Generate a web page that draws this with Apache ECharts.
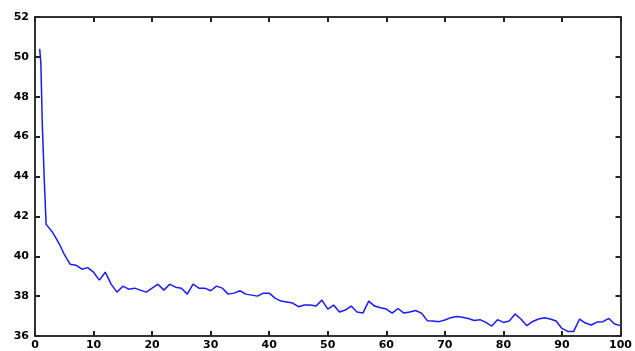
<!DOCTYPE html>
<html>
<head>
<meta charset="utf-8">
<script src="https://cdn.jsdelivr.net/npm/echarts@6/dist/echarts.min.js"></script>
<style>
  html, body { margin: 0; padding: 0; background: #fff; }
  #chart { width: 635px; height: 351px; }
</style>
</head>
<body>
<div id="chart"></div>
<script>
// x positions and values
var xValues = [0.8, 1.0, 1.25, 1.6, 1.9,
  3, 4, 5, 6, 7, 8, 9, 10, 11, 12, 13, 14, 15, 16, 17, 18, 19, 20,
  21, 22, 23, 24, 25, 26, 27, 28, 29, 30, 31, 32, 33, 34, 35, 36, 37, 38, 39, 40,
  41, 42, 43, 44, 45, 46, 47, 48, 49, 50, 51, 52, 53, 54, 55, 56, 57, 58, 59, 60,
  61, 62, 63, 64, 65, 66, 67, 68, 69, 70, 71, 72, 73, 74, 75, 76, 77, 78, 79, 80,
  81, 82, 83, 84, 85, 86, 87, 88, 89, 90, 91, 92, 93, 94, 95, 96, 97, 98, 99, 100];
var yValues = [50.4, 49.7, 46.6, 43.7, 41.6,
  41.2, 40.7, 40.1, 39.6, 39.55, 39.35, 39.43, 39.2, 38.8, 39.2, 38.6, 38.2, 38.5, 38.35, 38.4, 38.3, 38.2, 38.4,
  38.6, 38.3, 38.6, 38.45, 38.4, 38.1, 38.6, 38.4, 38.4, 38.27, 38.5, 38.4, 38.1, 38.15, 38.27, 38.1, 38.05, 38.0, 38.15, 38.15,
  37.9, 37.75, 37.7, 37.65, 37.47, 37.55, 37.55, 37.5, 37.8, 37.35, 37.55, 37.2, 37.3, 37.5, 37.2, 37.15, 37.75, 37.5, 37.42, 37.35,
  37.15, 37.38, 37.15, 37.2, 37.28, 37.15, 36.77, 36.75, 36.72, 36.8, 36.92, 36.98, 36.94, 36.88, 36.78, 36.82, 36.68, 36.5, 36.82, 36.68,
  36.75, 37.1, 36.85, 36.52, 36.73, 36.85, 36.92, 36.85, 36.75, 36.38, 36.23, 36.23, 36.85, 36.65, 36.55, 36.7, 36.72, 36.88, 36.6, 36.52];

var seriesData = xValues.map(function (x, i) { return [x, yValues[i]]; });

var axisLine = { show: true, onZero: false, lineStyle: { color: '#333', width: 2 } };
var tickStyle = { show: true, inside: true, length: 5, lineStyle: { color: '#222', width: 2 } };
var labelStyle = { color: '#000', fontFamily: 'DejaVu Sans', fontWeight: 'bold', fontSize: 11 };

var chart = echarts.init(document.getElementById('chart'));
chart.setOption({
  animation: false,
  grid: { left: 35, right: 13, top: 17, bottom: 14 },
  xAxis: [
    { type: 'value', min: 0, max: 100, interval: 10, position: 'bottom',
      axisLine: axisLine, axisTick: tickStyle, splitLine: { show: false },
      axisLabel: Object.assign({ margin: 4 }, labelStyle) },
    { type: 'value', min: 0, max: 100, interval: 10, position: 'top',
      axisLine: axisLine, axisTick: tickStyle, splitLine: { show: false },
      axisLabel: { show: false } }
  ],
  yAxis: [
    { type: 'value', min: 36, max: 52, interval: 2, position: 'left',
      axisLine: axisLine, axisTick: tickStyle, splitLine: { show: false },
      axisLabel: Object.assign({ margin: 6 }, labelStyle) },
    { type: 'value', min: 36, max: 52, interval: 2, position: 'right',
      axisLine: axisLine, axisTick: tickStyle, splitLine: { show: false },
      axisLabel: { show: false } }
  ],
  series: [{
    type: 'line',
    data: seriesData,
    showSymbol: false,
    lineStyle: { color: '#1a1aff', width: 1.5 }
  }]
});
</script>
</body>
</html>
